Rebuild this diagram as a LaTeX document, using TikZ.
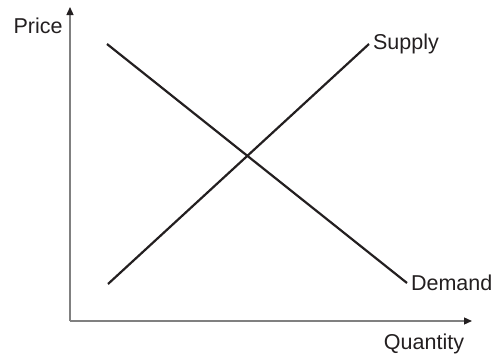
\documentclass[tikz,border=0pt]{standalone}
\usepackage{fontspec}
\setmainfont{Liberation Sans}
\usepackage{tikz}
\usetikzlibrary{arrows.meta,positioning}
\usepackage{xcolor}
\definecolor{inkdark}{HTML}{231F20}
\definecolor{axisgray}{HTML}{808080}
\tikzset{
  axisline/.style={draw=axisgray,line width=1.3pt,-{Triangle[length=8pt,width=7pt,color=inkdark]}},
  curveline/.style={draw=inkdark,line width=2.2pt},
  curvelabel/.style={text=inkdark,font=\fontsize{21.5}{25}\selectfont,inner sep=3pt}
}
\begin{document}
\begin{tikzpicture}[x=1pt,y=-1pt]
\useasboundingbox (0,0) rectangle (499,359);
\coordinate (O) at (70,321);
\coordinate (ytop) at (70,7);
\coordinate (xend) at (472,321);
\draw[axisline] (O)--(ytop);
\draw[axisline] (O)--(xend);
\node[curvelabel] (price) at (38,26) {Price};
\node[curvelabel] (quantity) at (424,344) {Quantity};
% supply and demand
\coordinate (s0) at (108,284);
\coordinate (s1) at (369,44);
\coordinate (d0) at (107,44);
\coordinate (d1) at (407,283);
\draw[curveline] (s0)--(s1) node[curvelabel,right] (supply) {Supply};
\draw[curveline] (d0)--(d1) node[curvelabel,right] (demand) {Demand};
\end{tikzpicture}
\end{document}
